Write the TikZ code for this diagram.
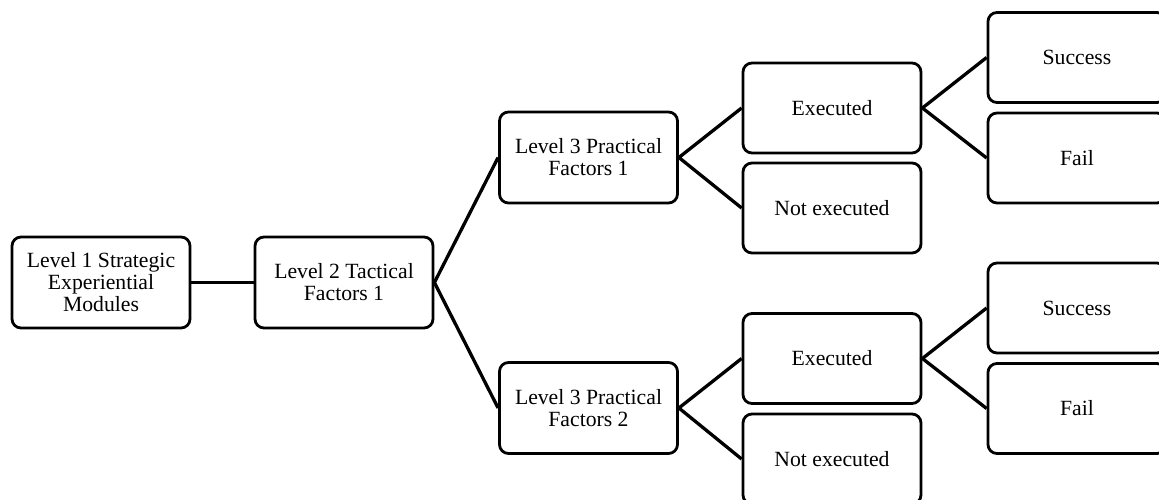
\documentclass[tikz,border=0pt]{standalone}
\usepackage{fontspec}
\setmainfont{Liberation Serif}
\begin{document}
\begin{tikzpicture}[x=1pt,y=-1pt,
  box/.style={draw=black, line width=2.8pt, rounded corners=9pt, minimum width=178pt, minimum height=90pt, inner sep=0pt, align=center, font=\fontsize{21.7}{22}\selectfont},
  link/.style={draw=black, line width=3.3pt}]
\useasboundingbox (0,0) rectangle (1159,500);
\clip (0,0) rectangle (1159,500);
\node[box, minimum height=91pt] (l1) at (101,282.5) {Level 1 Strategic\\Experiential\\Modules};
\node[box, minimum height=91pt] (l2) at (344,282.5) {Level 2 Tactical\\Factors 1};
\node[box, minimum height=91pt] (l3a) at (588.5,157.5) {Level 3 Practical\\Factors 1};
\node[box, minimum height=91pt] (l3b) at (588.5,408) {Level 3 Practical\\Factors 2};
\node[box] (e1) at (832,108) {Executed};
\node[box] (n1) at (832,208) {Not executed};
\node[box] (s1) at (1077,57.5) {Success};
\node[box] (f1) at (1077,158) {Fail};
\node[box] (e2) at (832,358.5) {Executed};
\node[box] (n2) at (832,459) {Not executed};
\node[box] (s2) at (1077,308) {Success};
\node[box] (f2) at (1077,408.5) {Fail};
\draw[link] (l1.east) -- (l2.west);
\draw[link] (l3a.west) -- (l2.east) -- (l3b.west);
\draw[link] (e1.west) -- (l3a.east) -- (n1.west);
\draw[link] (e2.west) -- (l3b.east) -- (n2.west);
\draw[link] (s1.west) -- (e1.east) -- (f1.west);
\draw[link] (s2.west) -- (e2.east) -- (f2.west);
\end{tikzpicture}
\end{document}
